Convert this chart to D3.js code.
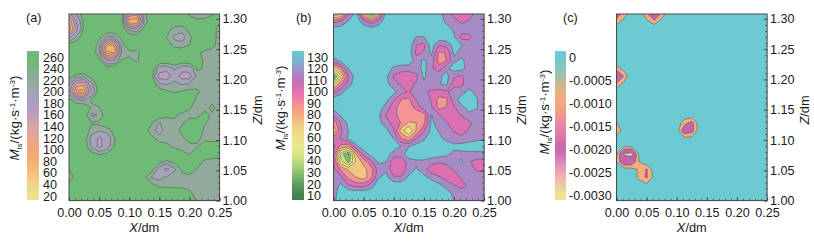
<!DOCTYPE html>
<html>
<head>
<meta charset="utf-8">
<script src="https://cdn.jsdelivr.net/npm/d3@7"></script>
<style>
  html, body { margin: 0; padding: 0; background: #fff; }
  text { font-family: "Liberation Sans", Arial, sans-serif; fill: #1a1a1a; }
  .tick text { font-size: 12.6px; }
</style>
</head>
<body>
<svg id="chart" width="814" height="241"></svg>
<script>
  'use strict';

  // field values, top row first
  var gridA = [
    [170,215,245,250,250,250,250,245,140,130,225,250,250,250,250,245,226,222,222,228,245],
    [ 90,180,240,250,250,250,250,245, 70, 60,215,250,250,250,245,245,245,235,236,240,232],
    [ 70,170,238,250,250,250,250,250,205,195,242,250,250,240,222,218,240,248,245,236,225],
    [170,215,245,250,240,205,205,240,250,250,250,250,250,228,205,198,224,244,244,236,225],
    [245,248,250,250,218, 90, 90,218,250,250,250,250,250,248,222,220,230,240,240,234,225],
    [250,250,250,250,212, 50, 60,212,222,222,245,250,250,250,248,248,245,233,226,225,224],
    [250,250,250,250,242,180,185,232,238,226,248,250,250,250,250,250,248,242,226,224,224],
    [250,250,250,250,250,250,250,250,250,250,250,248,198,192,215,192,195,234,228,224,224],
    [240,225,222,240,250,250,250,250,250,250,250,238,165,160,200,165,165,222,224,224,224],
    [215,140,130,205,250,250,250,250,250,250,250,248,212,208,216,208,212,226,225,224,224],
    [195, 80, 75,185,245,250,250,250,250,250,250,250,245,234,228,232,238,232,226,224,224],
    [238,210,205,232,250,250,250,250,250,250,250,250,250,248,246,245,238,228,226,224,224],
    [250,250,250,228,230,250,250,250,250,250,250,250,248,246,245,240,232,224,224,234,224],
    [250,250,245,205,212,245,250,250,250,250,250,250,245,233,233,226,226,226,236,228,224],
    [250,250,250,232,236,250,250,250,250,250,250,232,208,224,226,228,236,236,232,226,226],
    [250,250,248,222,212,218,238,250,250,250,240,218,200,222,225,234,246,244,226,226,226],
    [250,250,245,200,175,190,228,250,250,250,250,238,218,224,225,226,238,234,226,228,228],
    [250,250,248,205,170,195,230,250,250,250,250,250,244,234,226,225,225,228,238,233,233],
    [250,250,250,238,228,232,250,250,250,250,250,250,250,250,245,234,229,240,244,238,238],
    [250,250,250,250,250,250,250,250,250,250,250,250,238,226,236,248,250,240,226,224,224],
    [228,250,250,250,250,250,250,250,250,250,250,240,195,170,205,234,240,229,224,224,224],
    [212,245,250,250,250,250,250,250,250,250,236,208,200,215,222,224,225,224,224,224,224],
    [240,250,250,250,250,250,250,250,250,250,248,235,225,225,225,225,226,224,224,224,224],
    [250,250,250,250,250,250,250,250,250,250,250,250,244,242,240,238,232,226,224,224,224],
    [250,250,250,250,250,250,250,250,250,250,250,250,250,250,250,248,240,228,224,224,224]
  ];

  var gridB = [
    [ 55, 62,108,133, 70, 20, 75,132,135,135,135,135,135,135,130,118,105, 98,102,115,118],
    [105,112,128,135,118,100,118,135,135,135,135,135,135,135,132,122,116,108,112,118,118],
    [135,135,135,135,135,135,135,135,135,135,135,135,135,135,135,133,122,116,116,118,118],
    [135,135,135,135,135,135,135,135,135,135,135,124,124,135,135,135,128,105,106,118,118],
    [135,135,135,135,135,135,135,135,135,135,135,110,106,133,110,114,131,126,118,118,118],
    [135,135,135,135,135,135,135,135,135,135,133,106,112,128, 92, 96,128,120,118,118,118],
    [118,130,135,135,135,135,135,135,135,135,135,118,128,118, 90, 95,122,128,118,118,118],
    [ 60, 92,126,135,135,135,135,135,122,118,116,118,130,113,100,122,132,130,119,118,118],
    [ 15, 62,108,135,135,135,135,128,108,100,100,106,128,115,122,130,112,108,118,118,118],
    [ 45, 92,118,135,135,135,135,130,115,108,106,112,122,124,124,128,104,106,120,118,118],
    [100,120,135,135,135,135,135,135,130,116,108,118,114,106,104,108,116,120,128,122,118],
    [135,135,135,135,135,135,135,130,112, 95, 92,112,122,108, 90, 92,118,132,134,126,118],
    [130,135,135,135,135,135,133,118,102, 85, 88,100,118,112, 90, 96,108,122,130,126,118],
    [112,128,135,135,135,135,127,108,100, 88, 92, 85, 88,126,112,100,100,112,122,120,118],
    [ 85,112,130,135,135,135,130,116,104, 94, 78, 80, 90,128,118,112,100, 98,106,118,118],
    [ 65,108,125,135,135,135,135,130,112, 72, 50, 82,108,130,124,118,108,100,112,120,118],
    [100,112,128,135,135,135,135,135,124, 95, 82,108,122,135,128,122,118,116,118,122,124],
    [115, 90, 85,122,135,135,135,135,135,124,124,132,135,135,135,130,128,130,132,132,132],
    [105, 42, 18, 80,116,132,135,135,118,118,135,135,135,135,133,128,122,122,122,122,122],
    [110, 55, 30, 68, 85,106,128,125, 98, 98,118,122,122,116,112,116,120,127,112,104,104],
    [115, 92, 78, 75, 75, 88,118,122, 98, 98,118,127,115,100, 98,100,112,119,116,108,106],
    [124,113, 90, 80, 72, 90,124,130,112,112,128,135,130,120,112,102,100,113,118,118,118],
    [118,128,110,102,102,116,135,135,135,135,135,135,135,135,128,120,110,104,113,118,118],
    [118,135,135,135,135,135,135,135,135,135,135,135,135,135,135,130,122,118,118,118,118],
    [120,135,135,135,135,135,135,135,135,135,135,135,135,135,135,135,124,118,118,118,118]
  ];

  // panel c is stored in units of 0.0001
  var gridC = [
    [-18,-10, -1, -2,-10,-30,-10, -1,  0,  0,  0,  0,  0,  0,  0,  0,  0,  0,  0,  0,  0],
    [ -9, -3,  0,  0, -4, -9, -3,  0,  0,  0,  0,  0,  0,  0,  0,  0,  0,  0,  0,  0,  0],
    [  0,  0,  0,  0,  0,  0,  0,  0,  0,  0,  0,  0,  0,  0,  0,  0,  0,  0,  0,  0,  0],
    [  0,  0,  0,  0,  0,  0,  0,  0,  0,  0,  0,  0,  0,  0,  0,  0,  0,  0,  0,  0,  0],
    [  0,  0,  0,  0,  0,  0,  0,  0,  0,  0,  0,  0,  0,  0,  0,  0,  0,  0,  0,  0,  0],
    [  0,  0,  0,  0,  0,  0,  0,  0,  0,  0,  0,  0,  0,  0,  0,  0,  0,  0,  0,  0,  0],
    [  0,  0,  0,  0,  0,  0,  0,  0,  0,  0,  0,  0,  0,  0,  0,  0,  0,  0,  0,  0,  0],
    [ -9, -3,  0,  0,  0,  0,  0,  0,  0,  0,  0,  0,  0,  0,  0,  0,  0,  0,  0,  0,  0],
    [-30,-12,  0,  0,  0,  0,  0,  0,  0,  0,  0,  0,  0,  0,  0,  0,  0,  0,  0,  0,  0],
    [-12, -3,  0,  0,  0,  0,  0,  0,  0,  0,  0,  0,  0,  0,  0,  0,  0,  0,  0,  0,  0],
    [  0,  0,  0,  0,  0,  0,  0,  0,  0,  0,  0,  0,  0,  0,  0,  0,  0,  0,  0,  0,  0],
    [  0,  0,  0,  0,  0,  0,  0,  0,  0,  0,  0,  0,  0,  0,  0,  0,  0,  0,  0,  0,  0],
    [  0,  0,  0,  0,  0,  0,  0,  0,  0,  0,  0,  0,  0,  0,  0,  0,  0,  0,  0,  0,  0],
    [  0,  0,  0,  0,  0,  0,  0,  0,  0, -1, -1,  0,  0,  0,  0,  0,  0,  0,  0,  0,  0],
    [ -7,  0,  0,  0,  0,  0,  0,  0,  0,-10,-16, -1,  0,  0,  0,  0,  0,  0,  0,  0,  0],
    [-13, -1,  0,  0,  0,  0,  0,  0, -1,-20,-17, -1,  0,  0,  0,  0,  0,  0,  0,  0,  0],
    [ -3,  0,  0,  0,  0,  0,  0,  0,  0, -4, -3,  0,  0,  0,  0,  0,  0,  0,  0,  0,  0],
    [  0, -4, -4,  0,  0,  0,  0,  0,  0,  0,  0,  0,  0,  0,  0,  0,  0,  0,  0,  0,  0],
    [ -4,-28,-30, -4,  0,  0,  0,  0,  0,  0,  0,  0,  0,  0,  0,  0,  0,  0,  0,  0,  0],
    [ -6,-22,-20, -6,  0,  0,  0,  0,  0,  0,  0,  0,  0,  0,  0,  0,  0,  0,  0,  0,  0],
    [  0, -2, -3, -7,-14, -2,  0,  0,  0,  0,  0,  0,  0,  0,  0,  0,  0,  0,  0,  0,  0],
    [  0,  0, -1, -8,-14, -4,  0,  0,  0,  0,  0,  0,  0,  0,  0,  0,  0,  0,  0,  0,  0],
    [  0,  0,  0, -2, -4, -1,  0,  0,  0,  0,  0,  0,  0,  0,  0,  0,  0,  0,  0,  0,  0],
    [  0,  0,  0,  0,  0,  0,  0,  0,  0,  0,  0,  0,  0,  0,  0,  0,  0,  0,  0,  0,  0],
    [  0,  0,  0,  0,  0,  0,  0,  0,  0,  0,  0,  0,  0,  0,  0,  0,  0,  0,  0,  0,  0]
  ];

  var xTicks = [0, 0.05, 0.10, 0.15, 0.20, 0.25];
  var zTicks = [1.00, 1.05, 1.10, 1.15, 1.20, 1.25, 1.30];
  var xMinor = d3.range(0, 0.2501, 0.01);
  var zMinor = d3.range(1.00, 1.3001, 0.01);
  var zTop = 1.308;

  var barTicksA = [260,240,220,200,180,160,140,120,100,80,60,40,20];
  var barTicksB = [130,120,110,100,90,80,70,60,50,40,30,20,10];
  var barTicksC = [0,-5,-10,-15,-20,-25,-30];

  var levelsA = [60,90,120,150,180,210,230,270];
  var levelsB = [20,35,50,65,80,95,110,125,145];
  var levelsC = [-27,-13,-6,6];

  var stopsA = [270,250,240,220,200,180,160,140,120,100,80,60,40,20,10];
  var coloursA = ['#6dbb76','#6fba76','#7db288','#92aa9b','#a2a5b5','#a99cc6','#c19cba','#d9a4a6','#e8a68e','#f2a878','#f4ad76','#f3c17c','#efd685','#ece38b','#ece38b'];
  var stopsB = [145,135,125,118,110,100,90,80,70,60,50,40,30,20,10,0];
  var coloursB = ['#6ccad3','#6ccad3','#7bb0d0','#a78cc6','#bb72b8','#e66fb0','#f28d9a','#f5ab7c','#f2cf80','#ece48a','#e8ea86','#c2dd85','#8dc075','#5f9e5f','#44804f','#3f7a4a'];
  var stopsC = [6,0,-3,-5,-8,-10,-15,-20,-25,-30,-33];
  var coloursC = ['#6ccad3','#6ccad3','#8cc8b8','#b9bb98','#eab07e','#f4aa7c','#ec82a4','#c365ae','#f0a4bc','#ece68c','#ece68c'];

  var plotTop = 14, plotBottom = 200.6, barTop = 51, barBottom = 200;
  var svg = d3.select('#chart');
  var defs = svg.append('defs');

  ////////////////////////////////////////////////////////////////////////////////////
  //one panel : contour bands, axes, colour bar
  function drawPanel(p) {
    var x = d3.scaleLinear().domain([0, 0.25]).range([p.left, p.left + 150.6]);
    var z = d3.scaleLinear().domain([1.00, zTop]).range([plotBottom, plotTop]);
    var rows = p.grid.length, cols = p.grid[0].length;
    //contour coordinates: cell k has its value at k+0.5
    var colX = d3.scaleLinear().domain([0.5, cols - 0.5]).range([0, 0.25]);
    var rowZ = d3.scaleLinear().domain([0.5, rows - 0.5]).range([zTop, 1.00]);
    var colour = d3.scaleLinear().domain(p.stops).range(p.colours);

    var path = d3.geoPath(d3.geoTransform({
      point: function (cx, cy) { this.stream.point(x(colX(cx)), z(rowZ(cy))); }
    }));

    defs.append('clipPath').attr('id', 'clip' + p.id).append('rect')
      .attr('x', x(0)).attr('y', plotTop).attr('width', x(0.25) - x(0)).attr('height', plotBottom - plotTop);

    var g = svg.append('g');
    var bands = g.append('g').attr('clip-path', 'url(#clip' + p.id + ')');
    var bandPairs = d3.pairs(p.levels);

    bands.append('rect')
      .attr('x', x(0)).attr('y', plotTop).attr('width', x(0.25) - x(0)).attr('height', plotBottom - plotTop)
      .attr('fill', colour(p.levels[0] - 10));

    var contours = d3.contours().size([cols, rows]).smooth(true)
      .thresholds(bandPairs.map(function (d) { return d[0]; }))(d3.merge(p.grid));

    bands.selectAll('path').data(contours).enter().append('path')
      .attr('d', path)
      .attr('fill', function (d, i) { return colour((bandPairs[i][0] + bandPairs[i][1]) / 2); })
      .attr('stroke', '#4a4a4a')
      .attr('stroke-width', 0.6)
      .attr('stroke-opacity', 0.8);

    //frame
    g.append('rect')
      .attr('x', x(0)).attr('y', plotTop).attr('width', x(0.25) - x(0)).attr('height', plotBottom - plotTop)
      .attr('fill', 'none').attr('stroke', '#4a4a4a').attr('stroke-width', 1);

    //axes, ticks point into the plot
    var xAxis = g.append('g').attr('transform', 'translate(0,' + plotBottom + ')')
      .call(d3.axisBottom(x).tickValues(xTicks).tickSize(-3.5).tickPadding(7).tickFormat(d3.format('.2f')));
    var xMinorAxis = g.append('g').attr('transform', 'translate(0,' + plotBottom + ')')
      .call(d3.axisBottom(x).tickValues(xMinor).tickSize(-1.8).tickFormat(''));
    var zAxis = g.append('g').attr('transform', 'translate(' + x(0.25) + ',0)')
      .call(d3.axisRight(z).tickValues(zTicks).tickSize(-3.5).tickPadding(3).tickFormat(d3.format('.2f')));
    var zMinorAxis = g.append('g').attr('transform', 'translate(' + x(0.25) + ',0)')
      .call(d3.axisRight(z).tickValues(zMinor).tickSize(-1.8).tickFormat(''));
    [xAxis, xMinorAxis, zAxis, zMinorAxis].forEach(function (a) {
      a.select('.domain').remove();
      a.attr('font-family', null).attr('font-size', null);
      a.selectAll('line').attr('stroke', '#333').attr('stroke-width', 0.7);
    });

    g.append('text').attr('x', (x(0) + x(0.25)) / 2).attr('y', 232)
      .attr('text-anchor', 'middle').attr('font-size', 12.8)
      .html('<tspan font-style="italic">X</tspan>/dm');
    g.append('text')
      .attr('transform', 'translate(' + (x(0.25) + 42) + ',' + 110 + ') rotate(-90)')
      .attr('text-anchor', 'middle').attr('font-size', 12.8)
      .html('<tspan font-style="italic">Z</tspan>/dm');
    g.append('text').attr('x', p.tagX).attr('y', 22).attr('font-size', 12.6).text(p.tag);

    //colour bar
    var bar = d3.scaleLinear().domain(p.barDomain).range([p.barFirstY, p.barLastY]);
    var grad = defs.append('linearGradient').attr('id', 'grad' + p.id)
      .attr('x1', 0).attr('y1', 0).attr('x2', 0).attr('y2', 1);
    d3.range(0, 1.001, 0.04).forEach(function (t) {
      grad.append('stop').attr('offset', t)
        .attr('stop-color', colour(bar.invert(barTop + t * (barBottom - barTop))));
    });
    g.append('rect').attr('x', p.barX).attr('y', barTop).attr('width', p.barW).attr('height', barBottom - barTop)
      .attr('fill', 'url(#grad' + p.id + ')');
    var barAxis = g.append('g').attr('transform', 'translate(' + (p.barX + p.barW) + ',0)')
      .call(d3.axisRight(bar).tickValues(p.barTicks).tickSize(0).tickPadding(p.barPad).tickFormat(p.barFormat));
    barAxis.select('.domain').remove();
    barAxis.attr('font-family', null).attr('font-size', null);

    //rotated title with sub and superscripts
    g.append('text')
      .attr('transform', 'translate(' + p.titleX + ',' + p.titleY + ') rotate(-90)')
      .attr('text-anchor', 'middle').attr('font-size', 13.4)
      .html('<tspan font-style="italic">M</tspan><tspan font-size="8" dy="2.5">ls</tspan>' +
        '<tspan dy="-2.5">/(kg·s</tspan><tspan font-size="8" dy="-4">-1</tspan>' +
        '<tspan dy="4">·m</tspan><tspan font-size="8" dy="-4">-3</tspan><tspan dy="4">)</tspan>');
  }

  drawPanel({
    id: 'a', tag: '(a)', tagX: 26, left: 69, grid: gridA, levels: levelsA, stops: stopsA, colours: coloursA,
    barX: 27, barW: 12, barPad: 4, barDomain: [260, 20], barFirstY: 57, barLastY: 196, barTicks: barTicksA,
    barFormat: d3.format('d'), titleX: 19, titleY: 118
  });
  drawPanel({
    id: 'b', tag: '(b)', tagX: 296, left: 333.5, grid: gridB, levels: levelsB, stops: stopsB, colours: coloursB,
    barX: 292, barW: 12, barPad: 3, barDomain: [130, 10], barFirstY: 57, barLastY: 195.5, barTicks: barTicksB,
    barFormat: d3.format('d'), titleX: 285, titleY: 108
  });
  drawPanel({
    id: 'c', tag: '(c)', tagX: 563, left: 616.5, grid: gridC, levels: levelsC, stops: stopsC, colours: coloursC,
    barX: 555, barW: 11, barPad: 3, barDomain: [0, -30], barFirstY: 57, barLastY: 195.5, barTicks: barTicksC,
    barFormat: function (d) { return d === 0 ? '0' : (d / 10000).toFixed(4); }, titleX: 549, titleY: 112
  });
</script>
</body>
</html>
